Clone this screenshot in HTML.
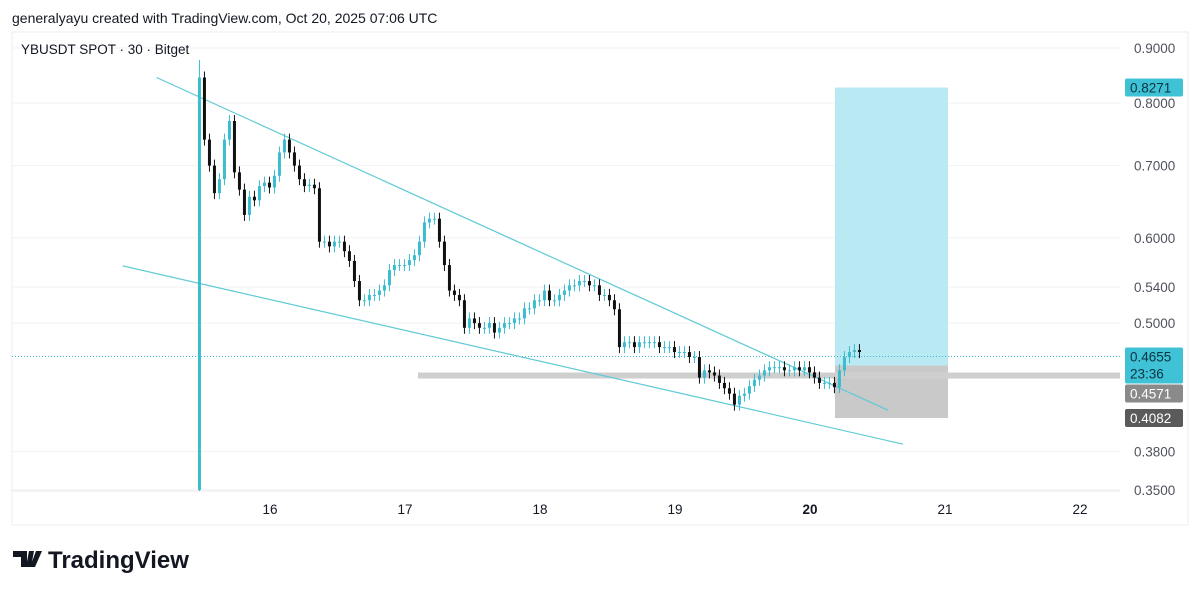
<!DOCTYPE html>
<html><head><meta charset="utf-8"><style>
body{margin:0;background:#fff;width:1200px;height:595px;overflow:hidden;font-family:"Liberation Sans",sans-serif}
svg{display:block}
</style></head><body>
<svg id="c" width="1200" height="595" font-family="Liberation Sans, sans-serif">
<text x="12" y="23" font-size="14" fill="#131722">generalyayu created with TradingView.com, Oct 20, 2025 07:06 UTC</text>
<rect x="12" y="32" width="1176" height="493" fill="none" stroke="#eceef2"/>
<line x1="12" y1="491" x2="1120" y2="491" stroke="#eceef2"/>
<g id="grid"></g>
<text x="21" y="54" font-size="13.5" fill="#131722">YBUSDT SPOT · 30 · Bitget</text>
<g id="draw"></g>
<g id="candles"></g>
<g id="axes"></g>
<g>
<path d="M13 551h14v16h-6v-10h-8z M29 551h5l-3 16h-5z M36 551h6l-7 16h-5z" fill="#131722"/>
<text x="48" y="568" font-size="24" font-weight="bold" fill="#131722">TradingView</text>
</g>
</svg>
<script>
const priceTicks=[0.9,0.8,0.7,0.6,0.54,0.5,0.38,0.35];
const tickLabels=["0.9000","0.8000","0.7000","0.6000","0.5400","0.5000","0.3800","0.3500"];
const dayTicks=[16,17,18,19,20,21,22];
const startDay=15.47;
const firstOpen=0.35;
const closes=[0.845,0.74,0.70,0.66,0.68,0.74,0.77,0.69,0.665,0.63,0.655,0.65,0.67,0.675,0.668,0.685,0.72,0.74,0.72,0.70,0.68,0.67,0.672,0.667,0.595,0.595,0.589,0.595,0.595,0.583,0.571,0.547,0.525,0.525,0.531,0.531,0.536,0.542,0.56,0.566,0.566,0.566,0.572,0.578,0.595,0.62,0.625,0.625,0.595,0.566,0.536,0.531,0.525,0.495,0.505,0.5,0.495,0.495,0.5,0.49,0.495,0.5,0.5,0.505,0.505,0.516,0.516,0.525,0.525,0.536,0.525,0.525,0.531,0.536,0.542,0.542,0.547,0.547,0.542,0.542,0.531,0.531,0.525,0.515,0.475,0.48,0.48,0.475,0.48,0.48,0.48,0.48,0.475,0.475,0.475,0.47,0.47,0.47,0.465,0.465,0.445,0.452,0.45,0.447,0.44,0.435,0.43,0.42,0.428,0.43,0.437,0.443,0.447,0.452,0.455,0.455,0.455,0.452,0.452,0.455,0.452,0.455,0.45,0.445,0.44,0.44,0.44,0.436,0.452,0.465,0.47,0.472,0.47];
const candleStep=5;
const channelUpper=[[15.16,0.845],[20.58,0.415]];
const channelLower=[[14.91,0.565],[20.69,0.386]];
const levels={last:0.4655,entry:0.4571,target:0.8271,stop:0.4082,band:0.447};

const NS="http://www.w3.org/2000/svg";
const topY=48,pxPerLog=468,pMax=0.9;
const y=p=>topY+Math.log(pMax/p)*pxPerLog;
const x=d=>270+(d-16)*135;
function el(t,a,parent){const e=document.createElementNS(NS,t);for(const k in a)e.setAttribute(k,a[k]);(parent||document.getElementById('c')).appendChild(e);return e;}
const grid=document.getElementById('grid'),axes=document.getElementById('axes'),draw=document.getElementById('draw'),cg=document.getElementById('candles');
priceTicks.forEach((p,i)=>{
 const g=el('line',{x1:12,x2:1120,y1:y(p),y2:y(p),stroke:'#f1f2f5'},grid);
 
 
 const t=el('text',{x:1134,y:y(p)+5,'font-size':13.5,fill:'#50535e'},axes);t.textContent=tickLabels[i];
 
 
});
dayTicks.forEach(d=>{
 const t=el('text',{x:x(d),y:514,'font-size':13.5,fill:'#131722','text-anchor':'middle','font-weight':d===20?'bold':'normal'},axes);t.textContent=d;
 
 
});
const bx=835,bw=113;
let r=el('rect',{x:bx,y:y(levels.target),width:bw,height:y(levels.last)-y(levels.target)+9,fill:'#b9e9f3'},draw);


r=el('rect',{x:bx,y:y(levels.last)+9,width:bw,height:y(levels.stop)-y(levels.last)-9,fill:'#c9c9c9'},draw);


r=el('rect',{x:418,y:y(levels.band)-3,width:702,height:6,fill:'#cfcfcf'},draw);


r=el('line',{x1:12,x2:1120,y1:y(levels.last),y2:y(levels.last),stroke:'#3fb8cc','stroke-dasharray':'1 2'},draw);


[[channelUpper,'upper-trendline'],[channelLower,'lower-trendline']].forEach(([l,n])=>{
 const ln=el('line',{x1:x(l[0][0]),y1:y(l[0][1]),x2:x(l[1][0]),y2:y(l[1][1]),stroke:'#5fcad6','stroke-width':1.2},draw);
 
 
});
let prevClose=firstOpen;
closes.forEach((c,i)=>{
 const cx=x(startDay)+i*candleStep+1;
 const up=c>=prevClose,col=up?'#3cbccf':'#111';
 const yo=y(prevClose),yc=y(c),t=Math.min(yo,yc),b=Math.max(yo,yc);
 const w=el('line',{x1:cx,x2:cx,y1:i===0?60:t-6,y2:i===0?491:b+6,stroke:col,'stroke-width':1},cg);
 
 
 const bd=el('rect',{x:cx-1.5,y:t,width:3,height:Math.max(1,b-t),fill:col},cg);
 
 
 prevClose=c;
});
function tag(yy,txt,bg,h,name){const g=el('g',{},axes);
 
 
 el('rect',{x:1125,y:yy-9,width:58,height:h,fill:bg,rx:2},g);
 txt.forEach((s,k)=>{const t=el('text',{x:1130,y:yy+5+k*17,'font-size':13.5,fill:bg==='#3fc1d6'?'#0b3440':'#fff'},g);t.textContent=s;});}
tag(y(levels.target),['0.8271'],'#3fc1d6',18,'target-price-tag');
tag(y(levels.stop),['0.4082'],'#5a5a5a',18,'stop-price-tag');
tag(y(levels.last),['0.4655','23:36'],'#3fc1d6',36,'last-price-tag');
tag(y(levels.last)+37,['0.4571'],'#8a8a8a',18,'entry-price-tag');
</script>
</body></html>
